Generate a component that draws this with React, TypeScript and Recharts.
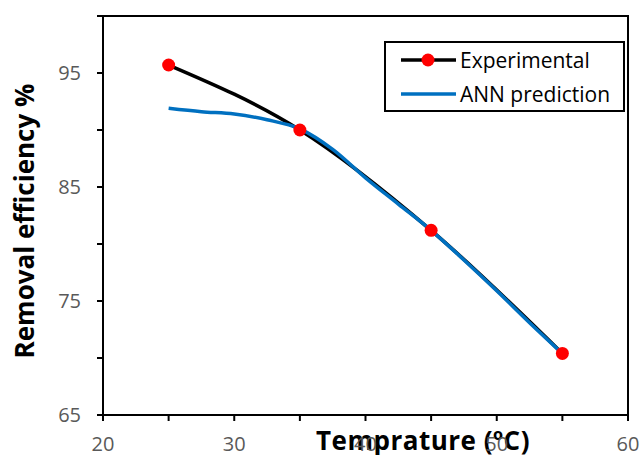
import { LineChart, Line, XAxis, YAxis, ReferenceArea, Label } from "recharts";

const expTemps = [25, 35, 45, 55];
const expValues = [95.7, 90.0, 81.2, 70.4];
const annTemps = [25, 27.5, 30, 32.5, 35, 37.5, 40, 42.5, 45, 47.5, 50, 52.5, 55];
const annValues = [91.9, 91.6, 91.4, 90.9, 90.1, 88.3, 85.8, 83.5, 81.2, 78.6, 75.9, 73.1, 70.4];
const xTicks = [20, 25, 30, 35, 40, 45, 50, 55, 60];
const yTicks = [65, 70, 75, 80, 85, 90, 95, 100];

const expData = expTemps.map((t, i) => ({ t, v: expValues[i] }));
const annData = annTemps.map((t, i) => ({ t, v: annValues[i] }));

const FONT = "'Open Sans', Lato, sans-serif";
const tickStyle = { fill: "#595959", fontSize: 20, fontFamily: FONT };

const LegendBox = () => (
  <div
    style={{
      position: "absolute",
      left: 384,
      top: 41,
      width: 237,
      height: 67,
      border: "2px solid #000",
      background: "#fff",
      fontFamily: FONT,
      fontSize: 21,
      color: "#000",
    }}
  >
    <div style={{ display: "flex", alignItems: "center", height: 34 }}>
      <svg width={74} height={20}>
        <line x1={15} y1={10} x2={70} y2={10} stroke="#000" strokeWidth={3.5} />
        <circle cx={42} cy={10} r={6.5} fill="#ff0000" />
      </svg>
      <span>Experimental</span>
    </div>
    <div style={{ display: "flex", alignItems: "center", height: 34 }}>
      <svg width={74} height={20}>
        <line x1={15} y1={10} x2={70} y2={10} stroke="#0070C0" strokeWidth={3.5} />
      </svg>
      <span>ANN prediction</span>
    </div>
  </div>
);

export default function App() {
  return (
    <div style={{ position: "absolute", left: 0, top: 0, width: 640, height: 455, background: "#fff" }}>
      <LineChart width={640} height={455} margin={{ top: 16, right: 12, bottom: 0, left: 0 }}>
        <ReferenceArea x1={20} x2={60} y1={65} y2={100} fill="none" stroke="#000" strokeWidth={2} />
        <XAxis
          dataKey="t"
          type="number"
          domain={[20, 60]}
          ticks={xTicks}
          tickFormatter={(v: number) => (v % 10 === 0 ? String(v) : "")}
          allowDuplicatedCategory={false}
          height={40}
          tickSize={6}
          tickMargin={16}
          tick={tickStyle}
          axisLine={{ stroke: "#000", strokeWidth: 2 }}
          tickLine={{ stroke: "#000", strokeWidth: 2 }}
        >
          <Label
            content={() => (
              <text
                x={423}
                y={450}
                textAnchor="middle"
                fontFamily={FONT}
                fontWeight="bold"
                fontSize={26}
                letterSpacing={0.5}
                fill="#000"
              >
                Temprature (ºC)
              </text>
            )}
          />
        </XAxis>
        <YAxis
          type="number"
          domain={[65, 100]}
          ticks={yTicks}
          tickFormatter={(v: number) => ((v - 65) % 10 === 0 ? String(v) : "")}
          width={103}
          tickSize={6}
          tickMargin={16}
          tick={tickStyle}
          axisLine={{ stroke: "#000", strokeWidth: 2 }}
          tickLine={{ stroke: "#000", strokeWidth: 2 }}
        >
          <Label
            content={() => (
              <text
                x={34}
                y={221}
                transform="rotate(-90 34 221)"
                textAnchor="middle"
                fontFamily={FONT}
                fontWeight="bold"
                fontSize={26}
                fill="#000"
              >
                Removal efficiency %
              </text>
            )}
          />
        </YAxis>
        <Line
          data={expData}
          dataKey="v"
          name="Experimental"
          type="monotone"
          stroke="#000"
          strokeWidth={3.5}
          dot={{ r: 6.5, fill: "#ff0000", stroke: "none" }}
          isAnimationActive={false}
        />
        <Line
          data={annData}
          dataKey="v"
          name="ANN prediction"
          type="monotone"
          stroke="#0070C0"
          strokeWidth={3.5}
          dot={false}
          isAnimationActive={false}
        />
      </LineChart>
      <LegendBox />
    </div>
  );
}
